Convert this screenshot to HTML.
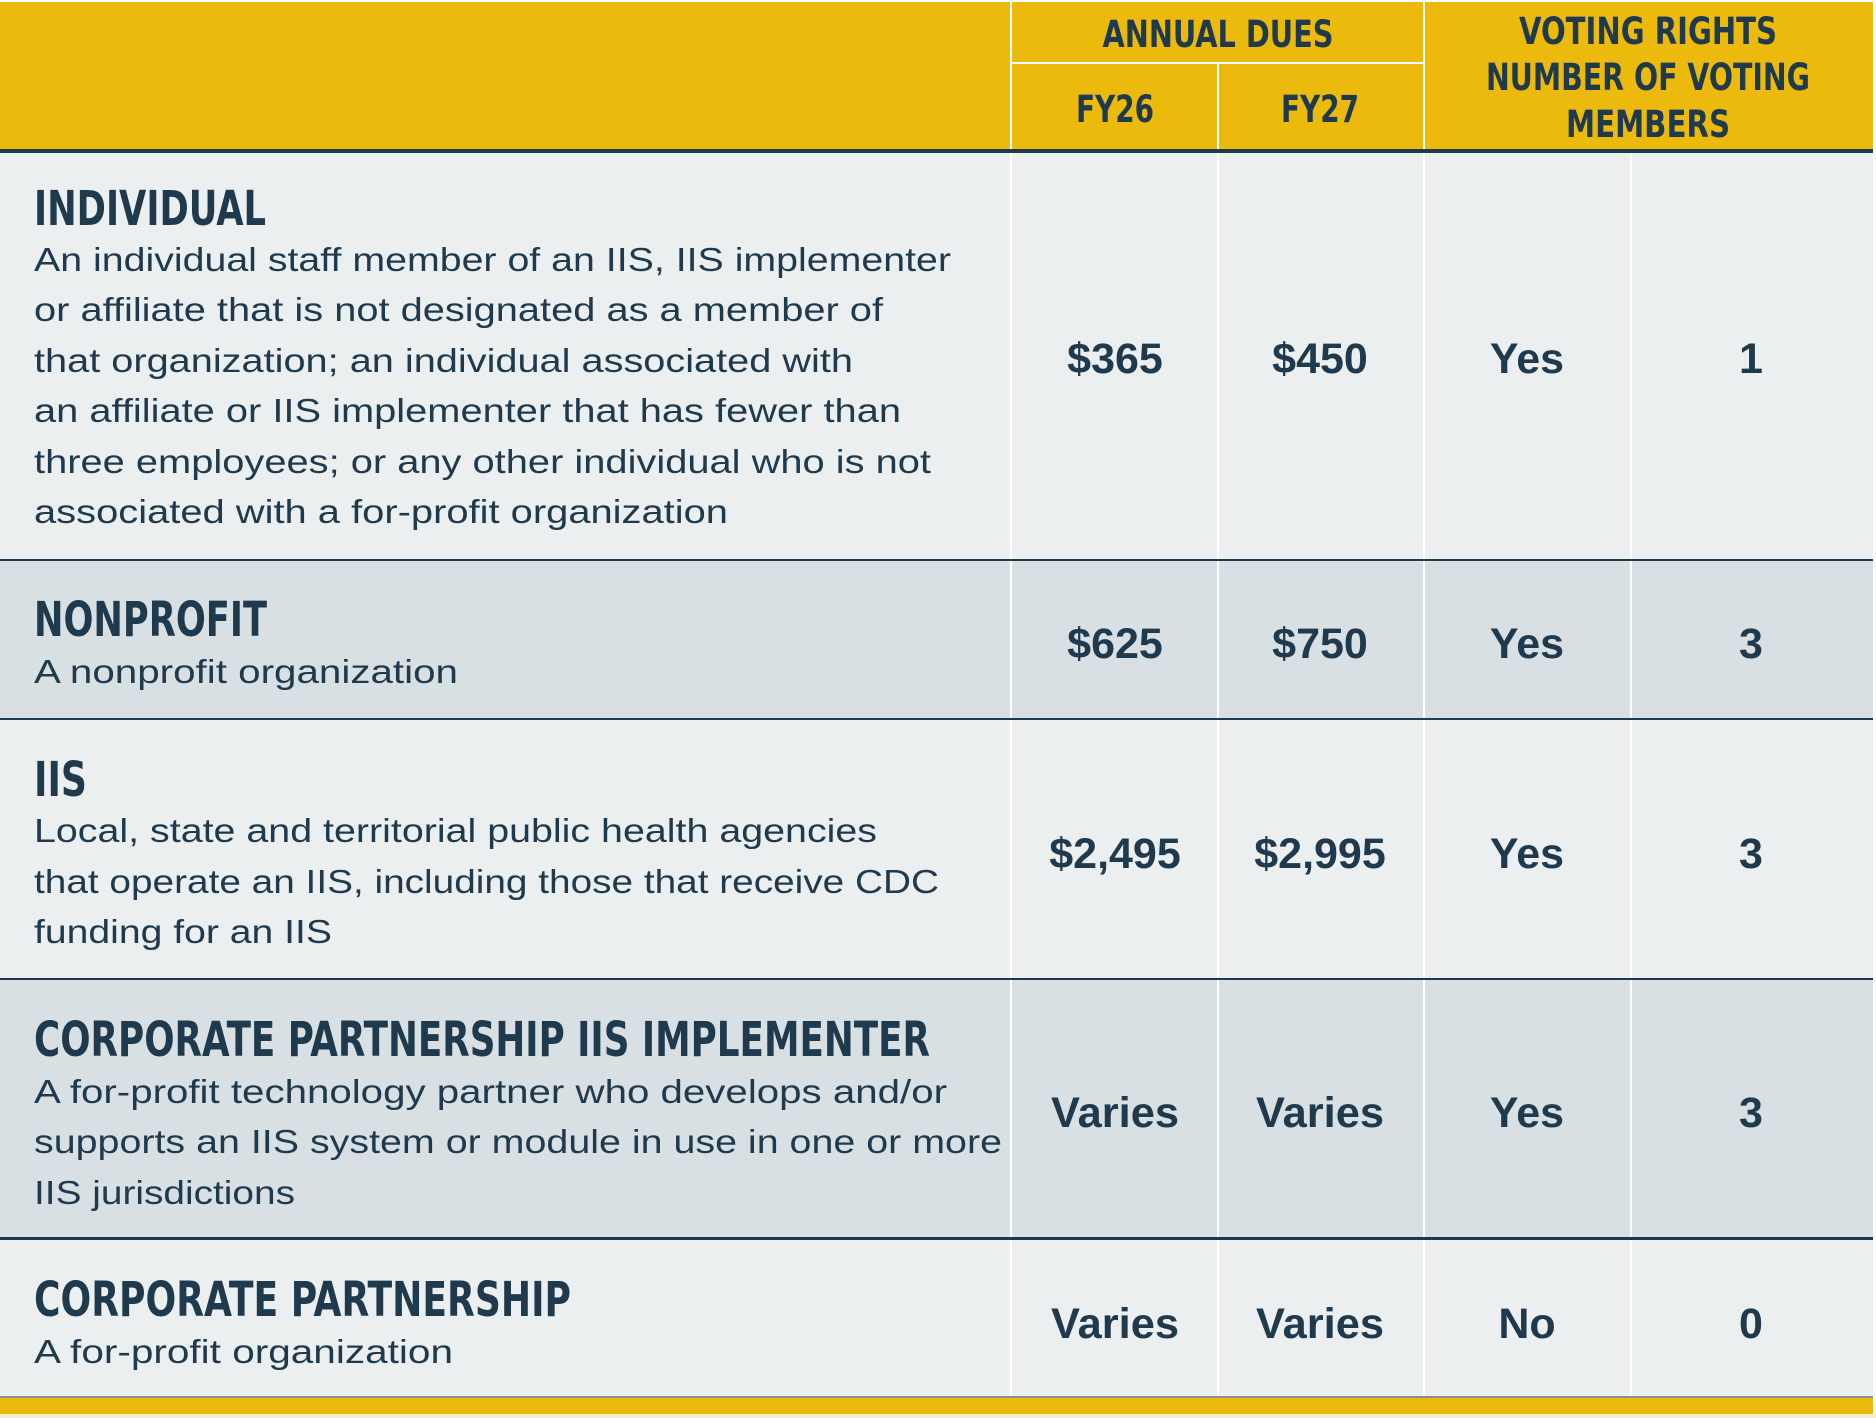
<!DOCTYPE html>
<html><head><meta charset="utf-8"><style>
html,body{margin:0;padding:0;background:#fff;}
svg{display:block;}
.h{font-family:"DejaVu Sans Condensed","DejaVu Sans",sans-serif;font-weight:bold;fill:#1f3a4d;}
.b{font-family:"Liberation Sans",sans-serif;fill:#1f3a4d;font-size:33px;}
.v{font-family:"Liberation Sans",sans-serif;font-weight:bold;fill:#1f3a4d;font-size:43px;}
</style></head><body>
<svg width="1876" height="1418" viewBox="0 0 1876 1418" xmlns="http://www.w3.org/2000/svg">
<rect x="0" y="0" width="1876" height="1418" fill="#fff"/>
<rect x="0" y="2" width="1873" height="148" fill="#ebba0c"/>
<rect x="0" y="151" width="1873" height="409" fill="#eceff0"/>
<rect x="0" y="560" width="1873" height="159" fill="#d9e0e3"/>
<rect x="0" y="719" width="1873" height="260" fill="#eceff0"/>
<rect x="0" y="979" width="1873" height="259" fill="#d9e0e3"/>
<rect x="0" y="1238" width="1873" height="158" fill="#eceff0"/>
<rect x="0" y="1396" width="1873" height="2" fill="#8a9097"/>
<rect x="0" y="1398" width="1873" height="16" fill="#ebba0c"/>
<rect x="0" y="1414" width="1876" height="4" fill="#f7eecb"/>
<rect x="1011" y="62" width="413" height="2" fill="#fff"/>
<rect x="1010" y="2" width="2" height="1394" fill="#fff"/>
<rect x="1217" y="63" width="2" height="1333" fill="#fff"/>
<rect x="1423" y="2" width="2" height="1394" fill="#fff"/>
<rect x="1630" y="151" width="2" height="1245" fill="#fff"/>
<rect x="0" y="149" width="1873" height="4" fill="#1f3a4d"/>
<rect x="0" y="559" width="1873" height="2" fill="#1f3a4d"/>
<rect x="0" y="718" width="1873" height="2" fill="#1f3a4d"/>
<rect x="0" y="978" width="1873" height="2" fill="#1f3a4d"/>
<rect x="0" y="1237" width="1873" height="3" fill="#1f3a4d"/>
<g class="h" font-size="37" text-anchor="middle">
<text x="1218" y="47" textLength="231" lengthAdjust="spacingAndGlyphs">ANNUAL DUES</text>
<text x="1115" y="122" textLength="78" lengthAdjust="spacingAndGlyphs">FY26</text>
<text x="1320" y="122" textLength="78" lengthAdjust="spacingAndGlyphs">FY27</text>
<text x="1648" y="44" textLength="258" lengthAdjust="spacingAndGlyphs">VOTING RIGHTS</text>
<text x="1648" y="90" textLength="324" lengthAdjust="spacingAndGlyphs">NUMBER OF VOTING</text>
<text x="1648" y="137" textLength="164" lengthAdjust="spacingAndGlyphs">MEMBERS</text>
</g>
<g class="h" font-size="48">
<text x="34" y="225" textLength="232" lengthAdjust="spacingAndGlyphs">INDIVIDUAL</text>
<text x="34" y="636" textLength="233" lengthAdjust="spacingAndGlyphs">NONPROFIT</text>
<text x="34" y="796" textLength="53" lengthAdjust="spacingAndGlyphs">IIS</text>
<text x="34" y="1056" textLength="896" lengthAdjust="spacingAndGlyphs">CORPORATE PARTNERSHIP IIS IMPLEMENTER</text>
<text x="34" y="1316" textLength="537" lengthAdjust="spacingAndGlyphs">CORPORATE PARTNERSHIP</text>
</g>
<g class="b">
<text x="34" y="271" textLength="917" lengthAdjust="spacingAndGlyphs">An individual staff member of an IIS, IIS implementer</text>
<text x="34" y="321" textLength="849" lengthAdjust="spacingAndGlyphs">or affiliate that is not designated as a member of</text>
<text x="34" y="372" textLength="819" lengthAdjust="spacingAndGlyphs">that organization; an individual associated with</text>
<text x="34" y="422" textLength="867" lengthAdjust="spacingAndGlyphs">an affiliate or IIS implementer that has fewer than</text>
<text x="34" y="473" textLength="897" lengthAdjust="spacingAndGlyphs">three employees; or any other individual who is not</text>
<text x="34" y="523" textLength="694" lengthAdjust="spacingAndGlyphs">associated with a for-profit organization</text>
<text x="34" y="683" textLength="424" lengthAdjust="spacingAndGlyphs">A nonprofit organization</text>
<text x="34" y="842" textLength="843" lengthAdjust="spacingAndGlyphs">Local, state and territorial public health agencies</text>
<text x="34" y="893" textLength="905" lengthAdjust="spacingAndGlyphs">that operate an IIS, including those that receive CDC</text>
<text x="34" y="943" textLength="298" lengthAdjust="spacingAndGlyphs">funding for an IIS</text>
<text x="34" y="1103" textLength="913" lengthAdjust="spacingAndGlyphs">A for-profit technology partner who develops and/or</text>
<text x="34" y="1153" textLength="968" lengthAdjust="spacingAndGlyphs">supports an IIS system or module in use in one or more</text>
<text x="34" y="1204" textLength="261" lengthAdjust="spacingAndGlyphs">IIS jurisdictions</text>
<text x="34" y="1363" textLength="419" lengthAdjust="spacingAndGlyphs">A for-profit organization</text>
</g>
<g class="v" text-anchor="middle">
<text x="1115" y="373">$365</text><text x="1320" y="373">$450</text><text x="1527" y="373">Yes</text><text x="1751" y="373">1</text>
<text x="1115" y="658">$625</text><text x="1320" y="658">$750</text><text x="1527" y="658">Yes</text><text x="1751" y="658">3</text>
<text x="1115" y="868">$2,495</text><text x="1320" y="868">$2,995</text><text x="1527" y="868">Yes</text><text x="1751" y="868">3</text>
<text x="1115" y="1127" textLength="128" lengthAdjust="spacingAndGlyphs">Varies</text><text x="1320" y="1127" textLength="128" lengthAdjust="spacingAndGlyphs">Varies</text><text x="1527" y="1127">Yes</text><text x="1751" y="1127">3</text>
<text x="1115" y="1338" textLength="128" lengthAdjust="spacingAndGlyphs">Varies</text><text x="1320" y="1338" textLength="128" lengthAdjust="spacingAndGlyphs">Varies</text><text x="1527" y="1338">No</text><text x="1751" y="1338">0</text>
</g>
</svg>
</body></html>
